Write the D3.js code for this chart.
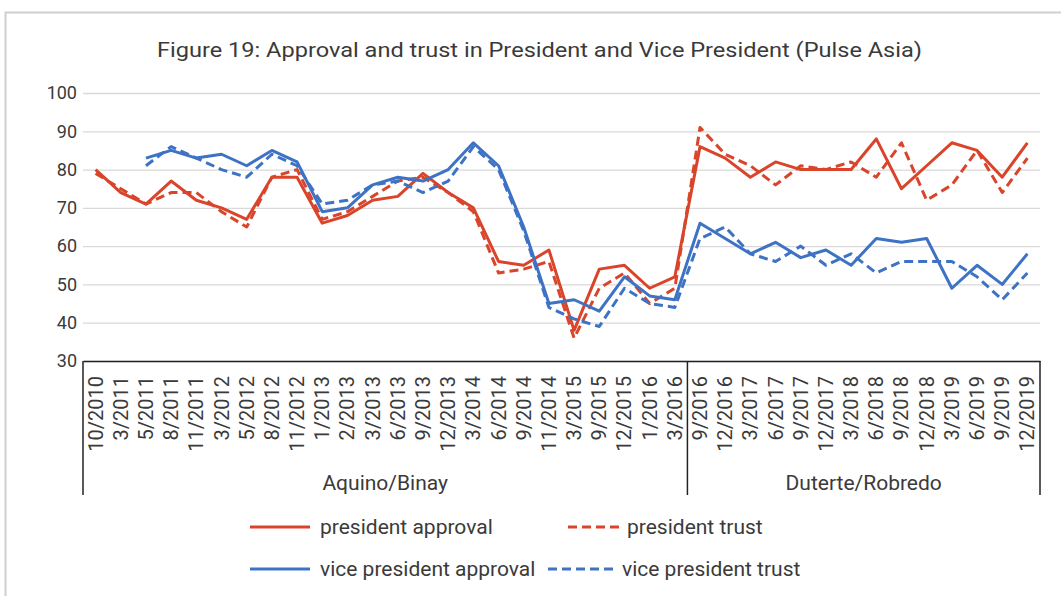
<!DOCTYPE html>
<html>
<head>
<meta charset="utf-8">
<script src="https://cdn.jsdelivr.net/npm/d3@7"></script>
<style>
  body { margin: 0; background: #fff; }
  text { font-family: Roboto, "Liberation Sans", sans-serif; fill: #3a3a3a; }
</style>
</head>
<body>
<svg id="mainsvg" width="1061" height="596"></svg>
<script>
// categories (survey dates)
const dates = ['10/2010', '3/2011', '5/2011', '8/2011', '11/2011', '3/2012', '5/2012', '8/2012',
  '11/2012', '1/2013', '2/2013', '3/2013', '6/2013', '9/2013', '12/2013', '3/2014', '6/2014',
  '9/2014', '11/2014', '3/2015', '9/2015', '12/2015', '1/2016', '3/2016', '9/2016', '12/2016',
  '3/2017', '6/2017', '9/2017', '12/2017', '3/2018', '6/2018', '9/2018', '12/2018', '3/2019',
  '6/2019', '9/2019', '12/2019'];

// administrations (outer category level)
const groups = [
  { name: 'Aquino/Binay', first: '10/2010', last: '3/2016' },
  { name: 'Duterte/Robredo', first: '9/2016', last: '12/2019' }
];

// series values
const presApproval = [80, 74, 71, 77, 72, 70, 67, 78, 78, 66, 68, 72, 73, 79, 74, 70, 56, 55, 59, 38,
  54, 55, 49, 52, 86, 83, 78, 82, 80, 80, 80, 88, 75, 81, 87, 85, 78, 87];
const presTrust = [79, 75, 71, 74, 74, 69, 65, 78, 80, 67, 69, 73, 77, 78, 74, 69, 53, 54, 56, 36,
  49, 53, 45, 49, 91, 84, 81, 76, 81, 80, 82, 78, 87, 72, 76, 85, 74, 83];
const vpApproval = [null, null, 83, 85, 83, 84, 81, 85, 82, 69, 70, 76, 78, 77, 80, 87, 81, 65, 45, 46,
  43, 52, 47, 46, 66, 62, 58, 61, 57, 59, 55, 62, 61, 62, 49, 55, 50, 58];
const vpTrust = [null, null, 81, 86, 83, 80, 78, 84, 81, 71, 72, 76, 77, 74, 77, 86, 80, 64, 44, 41,
  39, 49, 45, 44, 62, 65, 58, 56, 60, 55, 58, 53, 56, 56, 56, 52, 46, 53];

const yTicks = [30, 40, 50, 60, 70, 80, 90, 100];

const series = [
  { name: 'president approval', values: presApproval, color: '#d9442a', dash: null },
  { name: 'president trust', values: presTrust, color: '#d9442a', dash: '9,5' },
  { name: 'vice president approval', values: vpApproval, color: '#3d72c4', dash: null },
  { name: 'vice president trust', values: vpTrust, color: '#3d72c4', dash: '9,5' }
];

(function () {
  const svg = d3.select('#mainsvg');
  const plotLeft = 83, plotRight = 1040, plotTop = 93, plotBottom = 361, boxBottom = 495;

  // outer frame of the picture
  svg.append('path')
    .attr('d', 'M5.5,600 V12.5 H1070')
    .attr('fill', 'none')
    .attr('stroke', '#cfcfcf')
    .attr('stroke-width', 2);

  svg.append('text')
    .text('Figure 19: Approval and trust in President and Vice President (Pulse Asia)')
    .attr('x', 157)
    .attr('y', 57)
    .attr('font-size', 21)
    .attr('textLength', 765)
    .attr('lengthAdjust', 'spacingAndGlyphs');

  const x = d3.scaleBand().domain(dates).range([plotLeft, plotRight]).padding(0);
  const y = d3.scaleLinear().domain([30, 100]).range([plotBottom, plotTop]);
  const cx = d => x(d) + x.bandwidth() / 2;

  // y axis with grid
  const yAxis = d3.axisLeft(y).tickValues(yTicks).tickSize(-(plotRight - plotLeft)).tickPadding(6);
  const gy = svg.append('g').attr('transform', `translate(${plotLeft},0)`).call(yAxis);
  gy.select('.domain').remove();
  gy.selectAll('.tick line').attr('stroke', '#d9d9d9').attr('stroke-width', 1.3);
  gy.selectAll('.tick text').attr('font-size', 18).attr('fill', '#3a3a3a');

  // x axis
  const xAxis = d3.axisBottom(x).tickSize(0);
  const gx = svg.append('g').attr('transform', `translate(0,${plotBottom})`).call(xAxis);
  gx.select('.domain').attr('stroke', '#222').attr('stroke-width', 1.5);
  gx.selectAll('.tick text')
    .attr('font-size', 20)
    .attr('fill', '#3a3a3a')
    .attr('transform', 'rotate(-90)')
    .attr('text-anchor', 'end')
    .attr('dy', '0.35em')
    .attr('x', -15)
    .attr('y', 0);

  // group box lines and labels
  const bounds = [x(groups[0].first), x(groups[1].first), x(groups[1].last) + x.bandwidth()];
  svg.selectAll('.gline').data(bounds).join('line')
    .attr('x1', d => d).attr('x2', d => d)
    .attr('y1', plotBottom).attr('y2', boxBottom)
    .attr('stroke', '#222').attr('stroke-width', 1.5);
  svg.selectAll('.glabel').data(groups).join('text')
    .attr('x', d => (x(d.first) + x(d.last) + x.bandwidth()) / 2)
    .attr('y', 490)
    .attr('text-anchor', 'middle')
    .attr('font-size', 21)
    .text(d => d.name);

  // lines
  const line = d3.line()
    .defined(d => d.v !== null)
    .x(d => cx(d.date))
    .y(d => y(d.v));

  series.forEach(s => {
    svg.append('path')
      .datum(dates.map((d, i) => ({ date: d, v: s.values[i] })))
      .attr('fill', 'none')
      .attr('stroke', s.color)
      .attr('stroke-width', 3)
      .attr('stroke-dasharray', s.dash)
      .attr('stroke-linejoin', 'round')
      .attr('d', line);
  });

  // legend: [line start, line end, text x, row y]
  const legendPos = [[250, 310, 320, 527], [568, 620, 627, 527], [250, 310, 320, 569], [548, 616, 622, 569]];
  series.forEach((s, i) => {
    const [x1, x2, tx, ly] = legendPos[i];
    svg.append('line')
      .attr('x1', x1).attr('x2', x2).attr('y1', ly).attr('y2', ly)
      .attr('stroke', s.color).attr('stroke-width', 3)
      .attr('stroke-dasharray', s.dash);
    svg.append('text')
      .attr('x', tx)
      .attr('y', ly)
      .attr('dy', '0.35em')
      .attr('font-size', 21)
      .text(s.name);
  });
})();
</script>
</body>
</html>
